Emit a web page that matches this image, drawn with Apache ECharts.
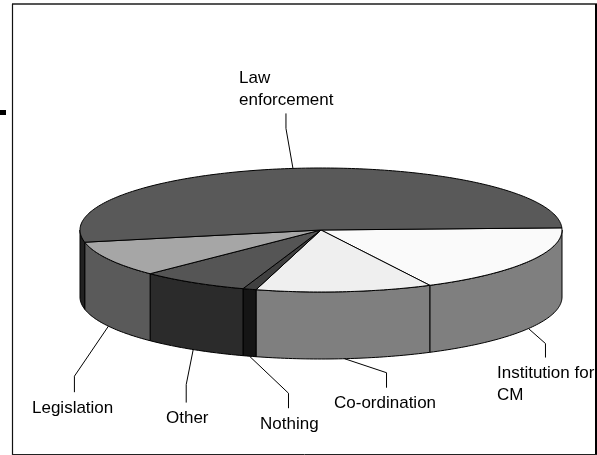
<!DOCTYPE html>
<html>
<head>
<meta charset="utf-8">
<style>html,body{margin:0;padding:0;background:#fff}#main{width:597px;height:455px}</style>
<script src="https://cdn.jsdelivr.net/npm/echarts@6/dist/echarts.min.js"></script>
</head>
<body>
<div id="main"></div>
<script>
// shares, percent, clockwise from the right edge of the pie
var categories = ['Institution for\nCM', 'Co-ordination', 'Nothing', 'Other', 'Legislation', 'Law\nenforcement'];
var shares = [18.1, 11.8, 0.9, 7.3, 9.3, 52.6];

var topColors = ['#fafafa', '#efefef', '#404040', '#555555', '#a6a6a6', '#595959'];
var sideColors = ['#7f7f7f', '#7f7f7f', '#151515', '#2b2b2b', '#5a5a5a', '#222222'];

// leader knee and end relative to the pie edge, then label left/middle
var leaders = [
    {knee: [17, 15], end: 29, label: [497, 384.5]},
    {knee: [42, 14], end: 29, label: [334, 403]},
    {knee: [39, 37], end: 52, label: [260, 424]},
    {knee: [-7, 35], end: 53, label: [166, 418]},
    {knee: [-34, 50], end: 66, label: [32, 408]},
    {knee: [-7, -40], end: -55, label: [239, 89.5]}
];

var cx = 321, cy = 230, rx = 241, ry = 62, depth = 67;
var startAngle = -2;
var total = shares.reduce(function(a, b) { return a + b; }, 0);

var app = echarts.init(document.getElementById('main'));

function pt(deg, dy) {
    var r = deg * Math.PI / 180;
    return [cx + rx * Math.cos(r), cy + ry * Math.sin(r) + (dy || 0)];
}

function arc(from, to, dy) {
    var out = [];
    var n = Math.max(2, Math.ceil(Math.abs(to - from)));
    for (var i = 0; i <= n; i++) {
        out.push(pt(from + (to - from) * i / n, dy));
    }
    return out;
}

function renderSlice(params, api) {
    var idx = params.dataIndex;
    var from = startAngle;
    for (var i = 0; i < idx; i++) {
        from += shares[i] / total * 360;
    }
    var to = from + api.value(0) / total * 360;
    var mid = (from + to) / 2;
    var kids = [];

    // only the front half of the wall can be seen
    var a = Math.max(from, 0), b = Math.min(to, 180);
    if (b > a) {
        kids.push({
            type: 'polygon',
            shape: {points: arc(a, b, 0).concat(arc(b, a, depth))},
            style: {fill: sideColors[idx], stroke: '#000', lineWidth: 1}
        });
    }
    kids.push({
        type: 'polygon',
        shape: {points: [[cx, cy]].concat(arc(from, to, 0))},
        style: {fill: topColors[idx], stroke: '#000', lineWidth: 1},
        z2: 5
    });

    var l = leaders[idx];
    var front = Math.sin(mid * Math.PI / 180) > 0;
    var p0 = pt(mid, front ? depth : 0);
    var knee = [p0[0] + l.knee[0], p0[1] + l.knee[1]];
    kids.push({
        type: 'polyline',
        shape: {points: [p0, knee, [knee[0], p0[1] + l.end]]},
        style: {fill: null, stroke: '#000', lineWidth: 1},
        z2: 6
    });
    kids.push({
        type: 'text',
        style: {
            text: categories[idx],
            x: l.label[0],
            y: l.label[1],
            align: 'left',
            verticalAlign: 'middle',
            font: '17px "Liberation Sans", Arial, sans-serif',
            lineHeight: 22.5,
            fill: '#000'
        },
        z2: 7
    });
    return {type: 'group', children: kids};
}

var option = {
    animation: false,
    backgroundColor: '#fff',
    graphic: [
        {type: 'line', shape: {x1: 12, y1: 4, x2: 597, y2: 4}, style: {stroke: '#555', lineWidth: 2}},
        {type: 'line', shape: {x1: 12.5, y1: 4, x2: 12.5, y2: 455}, style: {stroke: '#111', lineWidth: 1.2}},
        {type: 'line', shape: {x1: 596, y1: 4, x2: 596, y2: 455}, style: {stroke: '#000', lineWidth: 2}},
        {type: 'line', shape: {x1: 12, y1: 454.5, x2: 597, y2: 454.5}, style: {stroke: '#222', lineWidth: 1}},
        {type: 'rect', shape: {x: 0, y: 110, width: 6, height: 5}, style: {fill: '#000'}}
    ],
    series: [{
        type: 'custom',
        coordinateSystem: 'none',
        silent: true,
        clip: false,
        data: shares,
        encode: {value: 0},
        renderItem: renderSlice
    }]
};

app.setOption(option);
</script>
</body>
</html>
